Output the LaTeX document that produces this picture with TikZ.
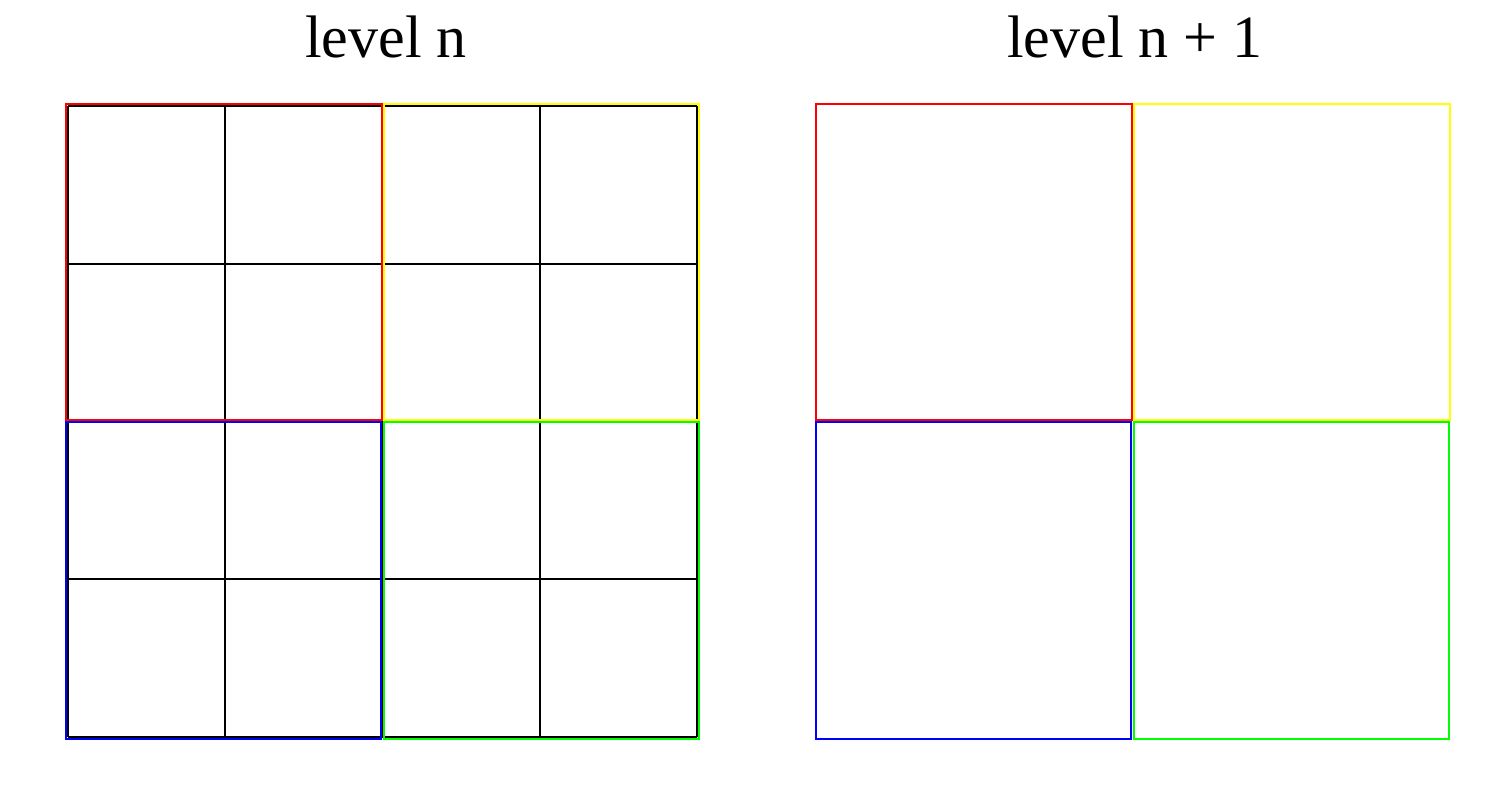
\documentclass[tikz,border=0pt]{standalone}
\usepackage{fontspec}
\setmainfont{Liberation Serif}
\definecolor{qred}{RGB}{255,0,0}
\definecolor{qyellow}{RGB}{255,255,0}
\definecolor{qblue}{RGB}{0,0,255}
\definecolor{qgreen}{RGB}{0,255,0}
\tikzset{
  cellline/.style={line width=1.2pt,black},
  quadbox/.style={line width=1.2pt},
  leveltitle/.style={font=\fontsize{30}{36}\selectfont,anchor=base,inner sep=0pt}
}
\begin{document}
\begin{tikzpicture}[x=0.5pt,y=-0.5pt]
\useasboundingbox (0,0) rectangle (1499,806);
% titles
\node[leveltitle] (titlen) at (386,58) {level n};
\node[leveltitle] (titlenext) at (1135,58) {level n + 1};
% fine grid of level n
\foreach \i in {0,...,4}{
  \draw[cellline] (68+157.25*\i,106) -- (68+157.25*\i,737);
  \draw[cellline] (68,106+157.75*\i) -- (697,106+157.75*\i);
}
% quadrants of level n
\draw[quadbox,qred] (66,104) rectangle (382,420);
\draw[quadbox,qyellow] (384,104) rectangle (699,420);
\draw[quadbox,qblue] (66,422) rectangle (381,739);
\draw[quadbox,qgreen] (384,422) rectangle (699,739);
% cells of level n + 1
\draw[quadbox,qred] (816,104) rectangle (1132,420);
\draw[quadbox,qyellow] (1134,104) rectangle (1450,420);
\draw[quadbox,qblue] (816,422) rectangle (1131,739);
\draw[quadbox,qgreen] (1134,422) rectangle (1449,739);
\end{tikzpicture}
\end{document}
